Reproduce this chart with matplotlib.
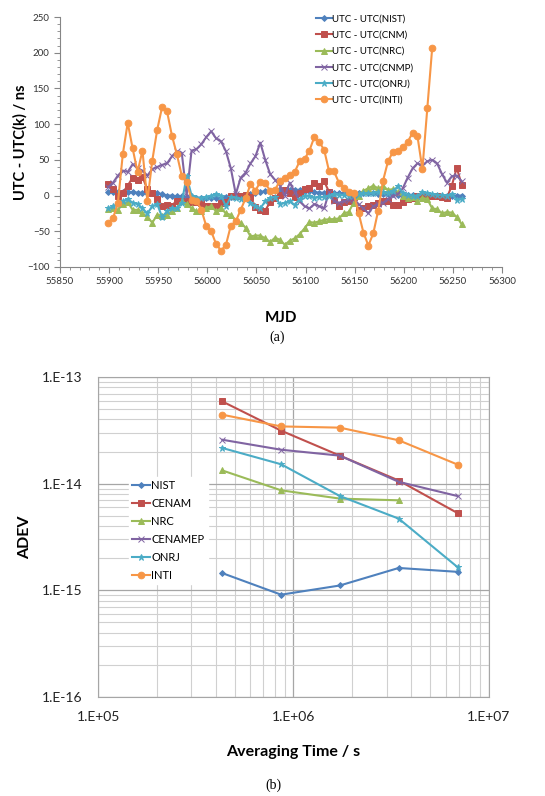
import numpy as np
import matplotlib.pyplot as plt
from matplotlib.ticker import MultipleLocator, LogLocator, FixedLocator, NullFormatter

plt.rcParams['font.family'] = ['Lato', 'DejaVu Sans']

# ---- (a) UTC - UTC(k), every 5 days ----
mjd = list(range(55899, 56260, 5))
nist = [5, 5, 5, 5, 5, 5, 4, 4, 4, 3, 3, 2, 0, 0, -1, -1, -2, -2, -3, -3,
        -3, -3, -3, -3, -2, -2, -1, 0, 1, 2, 4, 5, 6, 7, 8, 8, 8, 8, 8, 8,
        7, 6, 5, 4, 4, 4, 4, 3, 3, 3, 3, 3, 3, 3, 3, 2, 2, 2, 2, 1,
        1, 1, 1, 0, 0, 0, 0, 0, 0, 0, 0, 0, 0]
cnm = [16, 9, 0, 4, 14, 25, 22, 26, 9, 4, -5, -14, -13, -14, -7, -8, -8, -9, -9, -11,
       -15, -14, -15, -10, -9, 0, 0, 0, 1, -2, -16, -20, -21, -9, -3, 1, 8, 3, -2, 3,
       9, 11, 18, 14, 20, 5, -6, -15, -9, -8, -2, -20, -17, -15, -13, -11, -8, -8, -13, -13,
       -9, -5, -3, -1, 0, 0, -1, -1, -2, -3, 14, 39, 15]
nrc = [-19, -17, -20, -12, -9, -20, -20, -25, -30, -38, -27, -28, -27, -22, -18, -8, -12, -18, -22, -22,
       -17, -15, -22, -18, -25, -27, -35, -38, -45, -57, -56, -56, -60, -65, -59, -62, -69, -63, -60, -54,
       -46, -37, -38, -36, -34, -33, -33, -32, -25, -23, -10, 0, 7, 10, 14, 10, 13, 8, 9, 5,
       0, -3, -2, -7, -3, -5, -18, -19, -25, -23, -24, -30, -40]
cnmp = [12, 18, 28, 35, 33, 44, 38, 35, 28, 37, 40, 43, 45, 55, 62, 60, 0, 63, 65, 72,
        82, 90, 80, 76, 62, 38, 2, 25, 32, 45, 55, 74, 50, 30, 22, 14, 0, 18, 5, -8,
        -15, -18, -12, -15, -18, 5, -8, -10, -8, -6, -5, -12, -18, -25, -15, -12, -10, -5, 0, 2,
        10, 25, 38, 45, 42, 48, 50, 45, 30, 18, 27, 28, 20]
onrj = [-18, -15, -12, -8, -5, -10, -12, -18, -25, -15, -12, -30, -22, -18, -18, -10, 27, 0, -3, -3,
        -2, 0, 2, 0, -15, -2, -3, -5, -2, -10, -15, -18, -8, -3, -2, -12, -10, -8, -13, -5,
        0, 0, -3, -2, -2, 0, 2, 1, 1, 0, 1, 2, 3, 3, 4, 5, 5, 4, 6, 13,
        4, 1, 0, 0, 5, 3, 2, 1, 1, 0, 2, -6, -5]
inti = [-38, -32, -10, 58, 102, 66, 33, 63, -8, 49, 92, 124, 118, 84, 58, 28, 19, -6, -7, -20,
        -43, -50, -68, -77, -69, -42, -36, -20, -4, 16, 7, 19, 17, 7, 8, 21, 25, 29, 33, 48,
        51, 63, 82, 75, 64, 34, 34, 18, 11, 5, 3, -24, -52, -70, -53, -21, 21, 48, 61, 63,
        68, 75, 88, 83, 37, 122, 207]

top_labels = ['UTC - UTC(NIST)', 'UTC - UTC(CNM)', 'UTC - UTC(NRC)',
              'UTC - UTC(CNMP)', 'UTC - UTC(ONRJ)', 'UTC - UTC(INTI)']

# ---- (b) ADEV ----
tau = [432000, 864000, 1728000, 3456000, 6912000]
adev_nist = [1.45e-15, 0.91e-15, 1.11e-15, 1.62e-15, 1.49e-15]
adev_cenam = [5.9e-14, 3.14e-14, 1.83e-14, 1.07e-14, 5.3e-15]
adev_nrc = [1.33e-14, 8.66e-15, 7.24e-15, 6.98e-15]
adev_cenamep = [2.58e-14, 2.08e-14, 1.83e-14, 1.04e-14, 7.65e-15]
adev_onrj = [2.16e-14, 1.52e-14, 7.65e-15, 4.7e-15, 1.65e-15]
adev_inti = [4.43e-14, 3.44e-14, 3.35e-14, 2.55e-14, 1.51e-14]
bottom_labels = ['NIST', 'CENAM', 'NRC', 'CENAMEP', 'ONRJ', 'INTI']

colors = ['#4F81BD', '#C0504D', '#9BBB59', '#8064A2', '#4BACC6', '#F79646']
markers = ['D', 's', '^', 'x', '*', 'o']
msizes = [3, 4.8, 4.5, 4, 4.5, 4.8]

fig = plt.figure(figsize=(5.45, 7.96), dpi=100)

ax1 = fig.add_axes([0.110, 0.6646, 0.811, 0.314])
top_series = [nist, cnm, nrc, cnmp, onrj, inti]
for i, s in enumerate(top_series):
    ax1.plot(mjd[:len(s)], s, color=colors[i], marker=markers[i], ms=msizes[i],
             lw=1.5, label=top_labels[i], markeredgewidth=0.7)
ax1.set_xlim(55850, 56300)
ax1.set_ylim(-100, 250)
ax1.xaxis.set_major_locator(MultipleLocator(50))
ax1.xaxis.set_minor_locator(MultipleLocator(10))
ax1.yaxis.set_major_locator(MultipleLocator(50))
ax1.yaxis.set_minor_locator(MultipleLocator(10))
for sp in ['top', 'right']:
    ax1.spines[sp].set_visible(False)
for sp in ['left', 'bottom']:
    ax1.spines[sp].set_color('#868686')
ax1.tick_params(which='major', direction='out', length=4, color='#868686',
                labelsize=7, labelcolor='#333333')
ax1.tick_params(which='minor', direction='out', length=2.5, color='#868686')
ax1.set_xlabel('MJD', fontsize=11, fontweight='bold', labelpad=18)
ax1.set_ylabel('UTC - UTC(k) / ns', fontsize=10.5, fontweight='bold')
ax1.yaxis.set_label_coords(-0.073, 0.5)
ax1.legend(loc='upper left', bbox_to_anchor=(0.56, 1.045), frameon=False,
           fontsize=7, handlelength=1.6, handletextpad=0.05, labelspacing=0.74)
fig.text(0.508, 0.576, '(a)', ha='center', va='center', fontsize=10,
         family='Liberation Serif')

ax2 = fig.add_axes([0.180, 0.1244, 0.717, 0.402])
bottom_series = [adev_nist, adev_cenam, adev_nrc, adev_cenamep, adev_onrj, adev_inti]
for i, s in enumerate(bottom_series):
    ax2.plot(tau[:len(s)], s, color=colors[i], marker=markers[i], ms=msizes[i],
             lw=1.5, label=bottom_labels[i], markeredgewidth=0.7)
ax2.set_xscale('log')
ax2.set_yscale('log')
ax2.set_xlim(1e5, 1e7)
ax2.set_ylim(1e-16, 1e-13)
ax2.xaxis.set_major_locator(FixedLocator([1e5, 1e6, 1e7]))
ax2.yaxis.set_major_locator(FixedLocator([1e-16, 1e-15, 1e-14, 1e-13]))
ax2.xaxis.set_minor_locator(LogLocator(base=10, subs=np.arange(2, 10)))
ax2.yaxis.set_minor_locator(LogLocator(base=10, subs=np.arange(2, 10)))
ax2.xaxis.set_minor_formatter(NullFormatter())
ax2.yaxis.set_minor_formatter(NullFormatter())
ax2.set_xticklabels(['1.E+05', '1.E+06', '1.E+07'])
ax2.set_yticklabels(['1.E-16', '1.E-15', '1.E-14', '1.E-13'])
ax2.grid(which='major', color='#a6a6a6', lw=0.9)
ax2.grid(which='minor', color='#d0d0d0', lw=0.8)
ax2.set_axisbelow(True)
for sp in ax2.spines.values():
    sp.set_color('#a6a6a6')
ax2.tick_params(which='both', length=0, labelsize=10, labelcolor='#222222')
ax2.tick_params(axis='y', pad=11)
ax2.tick_params(axis='x', pad=10)
ax2.set_xlabel('Averaging Time / s', fontsize=11.5, fontweight='bold', labelpad=16)
ax2.set_ylabel('ADEV', fontsize=11.5, fontweight='bold')
ax2.yaxis.set_label_coords(-0.168, 0.5)
leg = ax2.legend(loc='upper left', bbox_to_anchor=(0.065, 0.705), frameon=True,
                 fontsize=8, handlelength=1.6, handletextpad=0.1, labelspacing=0.62,
                 borderpad=0.3)
leg.get_frame().set_edgecolor('white')
leg.get_frame().set_facecolor('white')
leg.get_frame().set_alpha(1)
fig.text(0.502, 0.014, '(b)', ha='center', va='center', fontsize=10,
         family='Liberation Serif')

fig.savefig('out.png', dpi=100)
